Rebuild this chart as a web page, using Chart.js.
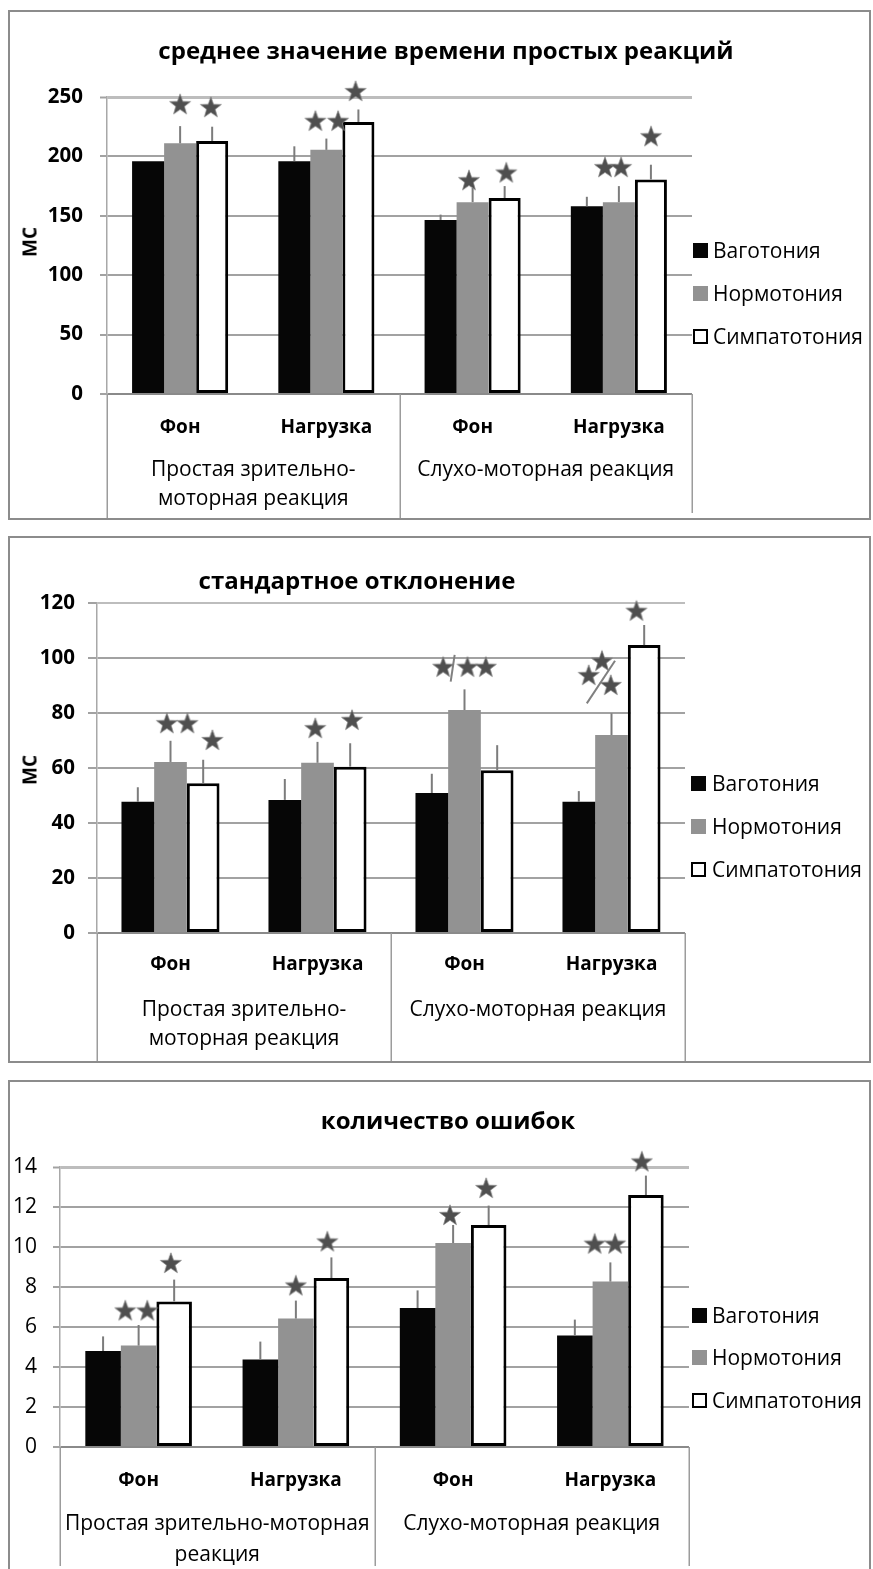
<!DOCTYPE html>
<html><head><meta charset="utf-8">
<script src="https://cdn.jsdelivr.net/npm/chart.js@4.4.1/dist/chart.umd.min.js"></script>
<style>
html,body{margin:0;padding:0;background:#fff;}
body{width:873px;height:1569px;position:relative;overflow:hidden;font-family:'Open Sans',sans-serif;color:#000;}
.frame{position:absolute;box-sizing:border-box;border:2px solid #8c8c8c;}
canvas{position:absolute;left:0;}
.title{position:absolute;font-weight:bold;font-size:24px;white-space:nowrap;transform:translate(-50%,-50%);line-height:1;}
.ylab{position:absolute;font-weight:bold;font-size:19px;white-space:nowrap;transform:translate(-50%,-50%) rotate(-90deg);line-height:1;}
.legtxt{position:absolute;font-size:21px;white-space:nowrap;line-height:1;transform:translateY(-50%);}
.legbox{position:absolute;width:15px;height:15px;box-sizing:border-box;}
</style></head>
<body>
<div class="frame" style="left:8px;top:10px;width:863px;height:510px"></div>
<div class="frame" style="left:8px;top:536px;width:863px;height:527px"></div>
<div class="frame" style="left:8px;top:1080px;width:863px;height:520px"></div>
<script>
// ---------- data ----------
const categories = ['Фон', 'Нагрузка', 'Фон', 'Нагрузка'];
const seriesNames = ['Ваготония', 'Нормотония', 'Симпатотония'];
const groupLabelsA = [['Простая зрительно-', 'моторная реакция'], 'Слухо-моторная реакция'];
const groupLabelsB = [['Простая зрительно-моторная', 'реакция'], 'Слухо-моторная реакция'];
const titles = ['среднее значение времени простых реакций', 'стандартное отклонение', 'количество ошибок'];
const yTitle = 'МС';

// chart 1: mean reaction time
const meanVag = [196, 196, 146.5, 158];
const meanNorm = [211, 205.5, 161.5, 161.5];
const meanSymp = [213, 229, 165, 180.5];
const meanVagErr = [0, 12.5, 4.5, 8];
const meanNormErr = [14.5, 9.5, 12, 13.5];
const meanSympErr = [12, 10.5, 10, 12.5];
const meanTicks = [0, 50, 100, 150, 200, 250];
const meanStarX = [0, 0.21, 0.925, 1.08, 1.2, 1.975, 2.23, 2.905, 3.015, 3.22];
const meanStarY = [244, 241.5, 230, 230, 255, 180, 186.5, 191, 191, 217];

// chart 2: standard deviation
const sdVag = [47.7, 48.4, 50.9, 47.7];
const sdNorm = [62.2, 61.9, 81.1, 72];
const sdSymp = [54.5, 60.5, 59.2, 104.7];
const sdVagErr = [5.3, 7.6, 7, 3.9];
const sdNormErr = [7.7, 7.6, 7.5, 7.9];
const sdSympErr = [8.5, 8.5, 9.1, 7.3];
const sdTicks = [0, 20, 40, 60, 80, 100, 120];
const sdStarX = [-0.025, 0.115, 0.285, 0.985, 1.235, 1.855, 2.02, 2.145, 2.935, 2.845, 2.995, 3.17];
const sdStarY = [76.3, 76.3, 70.2, 74.5, 77.5, 96.8, 96.8, 96.8, 99.0, 93.8, 90.2, 117.2];
const sdSlash1X = [1.933, 1.906];
const sdSlash1Y = [101.1, 91.4];
const sdSlash2X = [2.832, 3.024];
const sdSlash2Y = [83.5, 99.0];

// chart 3: number of errors
const errVag = [4.8, 4.37, 6.95, 5.57];
const errNorm = [5.07, 6.42, 10.2, 8.27];
const errSymp = [7.28, 8.45, 11.1, 12.6];
const errVagErr = [0.73, 0.9, 0.88, 0.8];
const errNormErr = [1.03, 0.9, 0.9, 0.96];
const errSympErr = [1.09, 1.03, 0.97, 0.97];
const errTicks = [0, 2, 4, 6, 8, 10, 12, 14];
const errStarX = [-0.085, 0.055, 0.205, 1.0, 1.2, 1.98, 2.21, 2.9, 3.03, 3.2];
const errStarY = [6.83, 6.83, 9.2, 8.08, 10.28, 11.6, 12.95, 10.17, 10.17, 14.28];

// ---------- drawing ----------
const F = "'Open Sans', sans-serif";
const barColors = ['#060606', '#929292', '#ffffff'];

function starImage() {
  const c = document.createElement('canvas'); c.width = 24; c.height = 24;
  const g = c.getContext('2d');
  g.beginPath();
  for (let i = 0; i < 10; i++) {
    const r = i % 2 ? 4.5 : 11; const a = -Math.PI / 2 + i * Math.PI / 5;
    g.lineTo(12 + r * Math.cos(a), 12.8 + r * Math.sin(a));
  }
  g.closePath(); g.fillStyle = '#4f4f4f'; g.fill();
  g.strokeStyle = 'rgba(130,130,130,0.7)'; g.lineWidth = 1; g.stroke();
  return c;
}
const STAR = starImage();

const errorBars = {
  id: 'errorBars',
  afterDatasetsDraw(chart) {
    const ctx = chart.ctx, y = chart.scales.y;
    chart.data.datasets.forEach((ds, i) => {
      if (!ds.errPlus) return;
      const meta = chart.getDatasetMeta(i);
      meta.data.forEach((el, j) => {
        const e = ds.errPlus[j]; if (!e) return;
        const top = y.getPixelForValue(ds.data[j] + e);
        ctx.save(); ctx.strokeStyle = '#7c7c7c'; ctx.lineWidth = 2;
        ctx.beginPath(); ctx.moveTo(el.x, el.y); ctx.lineTo(el.x, top); ctx.stroke(); ctx.restore();
      });
    });
  }
};
const separators = {
  id: 'separators',
  afterDraw(chart, args, opts) {
    const x = chart.scales.x, ca = chart.chartArea, ctx = chart.ctx;
    ctx.save(); ctx.strokeStyle = '#9c9c9c'; ctx.lineWidth = 1.5;
    [-0.5, 1.5, 3.5].forEach((v, k) => {
      const px = Math.round(x.getPixelForValue(v)) + 0.25;
      ctx.beginPath(); ctx.moveTo(px, ca.bottom); ctx.lineTo(px, opts.bottoms[k]); ctx.stroke();
    });
    ctx.restore();
  }
};

function addText(cls, text, left, top) {
  const d = document.createElement('div'); d.className = cls; d.textContent = text;
  d.style.left = left + 'px'; d.style.top = top + 'px'; document.body.appendChild(d); return d;
}
function addLegend(sqX, textX, ys) {
  seriesNames.forEach((name, i) => {
    const b = document.createElement('div'); b.className = 'legbox';
    b.style.left = sqX + 'px'; b.style.top = (ys[i] - 7.5) + 'px';
    b.style.background = barColors[i];
    if (i === 2) b.style.border = '2.5px solid #000';
    document.body.appendChild(b);
    addText('legtxt', name, textX, ys[i]);
  });
}

function makeChart(cfg) {
  const cv = document.createElement('canvas');
  cv.width = 873; cv.height = cfg.h; cv.style.top = cfg.top + 'px';
  cv.style.width = '873px'; cv.style.height = cfg.h + 'px';
  document.body.appendChild(cv);
  const datasets = cfg.series.map((vals, i) => ({
    type: 'bar', label: seriesNames[i], data: vals, errPlus: cfg.errs[i],
    backgroundColor: barColors[i], borderColor: '#000', borderWidth: i === 2 ? 3 : 0,
    borderSkipped: false, xAxisID: 'x', yAxisID: 'y',
    categoryPercentage: cfg.catPct, barPercentage: 1
  }));
  // significance stars: x given as category index + offset (unparsed internal values)
  datasets.push({
    type: 'scatter', label: 'stars', xAxisID: 'x', yAxisID: 'y', order: -1, clip: false, parsing: false,
    data: cfg.starX.map((x, i) => ({x: x, y: cfg.starY[i]})),
    pointStyle: STAR, pointRadius: 11, pointHoverRadius: 11
  });
  (cfg.slashes || []).forEach(s => datasets.push({
    type: 'line', label: 'slash', xAxisID: 'x', yAxisID: 'y', order: -1, clip: false, parsing: false,
    data: s[0].map((x, i) => ({x: x, y: s[1][i]})),
    borderColor: '#808080', borderWidth: 2, pointRadius: 0, fill: false
  }));
  const gridVal = cfg.ticks;
  new Chart(cv, {
    data: { labels: categories, datasets: datasets },
    options: {
      responsive: false, animation: false, events: [],
      layout: { padding: { left: 0, right: cfg.padRight, top: cfg.padTop, bottom: 0 } },
      plugins: { legend: { display: false }, title: { display: false }, tooltip: { enabled: false },
        separators: { bottoms: cfg.sepBottoms } },
      scales: {
        x: { type: 'category', position: 'bottom', offset: true,
          grid: { display: false, drawTicks: false }, border: { display: false },
          ticks: { font: { family: F, size: 19, weight: 'bold' }, color: '#000', padding: cfg.xPad, maxRotation: 0, autoSkip: false },
          afterFit: s => { s.height = cfg.xH; } },
        x2: { type: 'category', position: 'bottom', offset: true, labels: cfg.groups,
          grid: { display: false, drawTicks: false }, border: { display: false },
          ticks: { font: { family: F, size: 21, lineHeight: cfg.grpLH / 21 }, color: '#000', padding: cfg.x2Pad, maxRotation: 0, autoSkip: false },
          afterFit: s => { s.height = cfg.x2H; } },
        y: { type: 'linear', min: 0, max: cfg.max,
          afterBuildTicks: s => { s.ticks = gridVal.map(v => ({ value: v })); },
          grid: {
            color: c => c.tick && c.tick.value === cfg.max ? '#bdbdbd' : (c.tick && c.tick.value === 0 ? '#8a8a8a' : '#a2a2a2'),
            lineWidth: c => c.tick && c.tick.value === cfg.max ? cfg.topLW : 2,
            tickLength: cfg.tickLen, tickColor: '#a2a2a2', tickWidth: 2 },
          border: { color: '#a8a8a8', width: 1.5 },
          ticks: { font: { family: F, size: cfg.yBold ? 20.5 : 21, weight: cfg.yBold ? 'bold' : 'normal' }, color: '#000', padding: cfg.yPad },
          afterFit: s => { s.width = cfg.yW; } }
      }
    },
    plugins: [errorBars, separators]
  });
}

// chart 1
makeChart({ top: 0, h: 530, padTop: 97, padRight: 181, yW: 107, tickLen: 7, yPad: 17, yBold: true,
  max: 250, ticks: meanTicks, catPct: 0.657, xH: 57, x2H: 79, xPad: 22, x2Pad: 5, grpLH: 29, topLW: 3,
  groups: groupLabelsA, series: [meanVag, meanNorm, meanSymp], errs: [meanVagErr, meanNormErr, meanSympErr],
  starX: meanStarX, starY: meanStarY, sepBottoms: [518, 518, 513] });
addText('title', titles[0], 446, 50);
addText('ylab', yTitle, 30, 242);
addLegend(693, 713, [250, 293, 336]);

// chart 2
makeChart({ top: 530, h: 535, padTop: 73, padRight: 188, yW: 97, tickLen: 9, yPad: 13, yBold: true,
  max: 120, ticks: sdTicks, catPct: 0.667, xH: 57, x2H: 75, xPad: 20, x2Pad: 5.5, grpLH: 29, topLW: 2,
  groups: groupLabelsA, series: [sdVag, sdNorm, sdSymp], errs: [sdVagErr, sdNormErr, sdSympErr],
  starX: sdStarX, starY: sdStarY, slashes: [[sdSlash1X, sdSlash1Y], [sdSlash2X, sdSlash2Y]],
  sepBottoms: [531, 531, 531] });
addText('title', titles[1], 357, 580);
addText('ylab', yTitle, 30, 770);
addLegend(691, 712, [783, 826, 869]);

// chart 3
makeChart({ top: 1070, h: 499, padTop: 97, padRight: 184, yW: 60, tickLen: 7, yPad: 16, yBold: false,
  max: 14, ticks: errTicks, catPct: 0.678, xH: 57, x2H: 65, xPad: 22, x2Pad: 5, grpLH: 31, topLW: 3,
  groups: groupLabelsB, series: [errVag, errNorm, errSymp], errs: [errVagErr, errNormErr, errSympErr],
  starX: errStarX, starY: errStarY, sepBottoms: [496, 496, 496] });
addText('title', titles[2], 448, 1120);
addLegend(692, 712, [1315, 1357, 1400]);
</script>
</body></html>
